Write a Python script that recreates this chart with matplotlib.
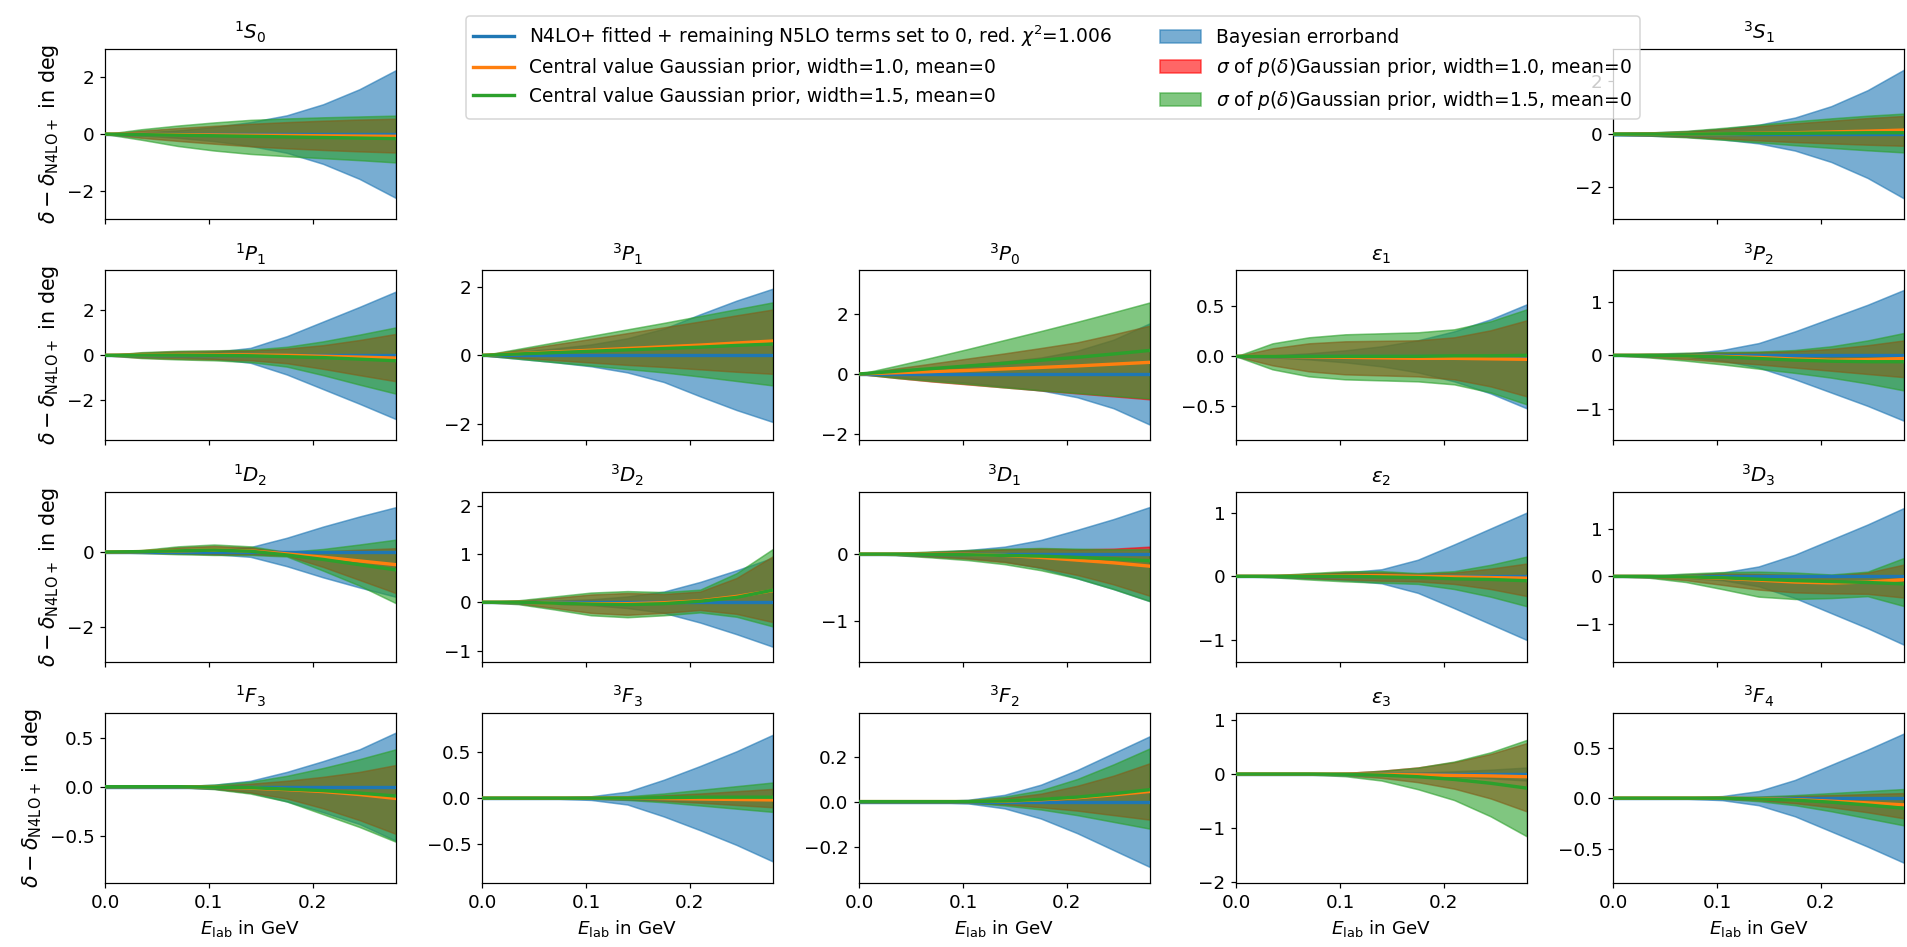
import matplotlib
matplotlib.use("Agg")
import matplotlib.pyplot as plt
import numpy as np

# ---------------- data ----------------
X = [0, 0.035, 0.07, 0.105, 0.14, 0.175, 0.21, 0.245, 0.28]  # E_lab in GeV

TITLES = [r'$^1S_0$', r'$^3S_1$',
          r'$^1P_1$', r'$^3P_1$', r'$^3P_0$', r'$\varepsilon_1$', r'$^3P_2$',
          r'$^1D_2$', r'$^3D_2$', r'$^3D_1$', r'$\varepsilon_2$', r'$^3D_3$',
          r'$^1F_3$', r'$^3F_3$', r'$^3F_2$', r'$\varepsilon_3$', r'$^3F_4$']

# N4LO+ fitted line (reference, difference = 0)
FIT = [0, 0, 0, 0, 0, 0, 0, 0, 0]

# Bayesian errorband half width (symmetric around 0)
BAYES = [
    [0, 0.05, 0.13, 0.25, 0.42, 0.66, 1.05, 1.58, 2.25],
    [0.05, 0.06, 0.1, 0.2, 0.35, 0.62, 1.05, 1.65, 2.42],
    [0, 0.04, 0.08, 0.15, 0.33, 0.85, 1.5, 2.15, 2.83],
    [0, 0.1, 0.2, 0.32, 0.5, 0.78, 1.2, 1.6, 1.95],
    [0, 0.1, 0.2, 0.3, 0.42, 0.55, 0.78, 1.15, 1.7],
    [0, 0.01, 0.03, 0.06, 0.1, 0.16, 0.25, 0.37, 0.52],
    [0, 0.01, 0.03, 0.1, 0.23, 0.45, 0.7, 0.95, 1.23],
    [0, 0.01, 0.03, 0.06, 0.13, 0.38, 0.68, 0.95, 1.2],
    [0, 0.01, 0.03, 0.06, 0.12, 0.22, 0.42, 0.66, 0.92],
    [0, 0.01, 0.03, 0.06, 0.11, 0.21, 0.36, 0.52, 0.7],
    [0, 0.01, 0.03, 0.06, 0.11, 0.26, 0.5, 0.75, 1.0],
    [0, 0.01, 0.03, 0.08, 0.21, 0.46, 0.78, 1.1, 1.45],
    [0, 0, 0.005, 0.02, 0.06, 0.15, 0.26, 0.38, 0.55],
    [0, 0, 0.005, 0.02, 0.07, 0.2, 0.35, 0.51, 0.69],
    [0, 0, 0.002, 0.008, 0.03, 0.075, 0.14, 0.215, 0.29],
    [0, 0, 0, 0.005, 0.01, 0.025, 0.05, 0.08, 0.12],
    [0, 0, 0.005, 0.02, 0.07, 0.18, 0.33, 0.48, 0.64],
]

# Central value, Gaussian prior width=1.0
CENTRAL_W10 = [
    [0, -0.01, -0.02, -0.03, -0.04, -0.05, -0.06, -0.07, -0.08],
    [0, 0, 0, 0.01, 0.03, 0.05, 0.08, 0.11, 0.15],
    [0, 0.02, 0.03, 0.03, 0.02, 0, -0.04, -0.08, -0.12],
    [0, 0.05, 0.1, 0.15, 0.2, 0.25, 0.3, 0.36, 0.42],
    [0, 0.04, 0.08, 0.12, 0.17, 0.22, 0.27, 0.33, 0.39],
    [0, 0, -0.005, -0.01, -0.015, -0.02, -0.02, -0.025, -0.03],
    [0, 0, -0.01, -0.02, -0.04, -0.07, -0.09, -0.08, -0.06],
    [0, 0.01, 0.03, 0.05, 0.03, -0.05, -0.14, -0.24, -0.34],
    [0, 0, -0.02, -0.03, -0.03, -0.01, 0.03, 0.12, 0.24],
    [0, 0, 0, -0.005, -0.02, -0.05, -0.09, -0.13, -0.18],
    [0, 0, 0.005, 0.01, 0.01, 0, -0.01, -0.02, -0.03],
    [0, 0, -0.01, -0.04, -0.08, -0.12, -0.14, -0.12, -0.07],
    [0, 0, 0, -0.005, -0.015, -0.03, -0.05, -0.08, -0.12],
    [0, 0, 0, 0, 0, -0.005, -0.01, -0.015, -0.02],
    [0, 0, 0, 0, 0.002, 0.008, 0.017, 0.03, 0.045],
    [0, 0, 0, -0.002, -0.008, -0.015, -0.025, -0.035, -0.05],
    [0, 0, 0, 0, -0.005, -0.015, -0.03, -0.047, -0.067],
]

# Central value, Gaussian prior width=1.5
CENTRAL_W15 = [
    [0, -0.02, -0.04, -0.06, -0.08, -0.1, -0.12, -0.14, -0.16],
    [0, 0, 0, 0.01, 0.02, 0.03, 0.04, 0.05, 0.05],
    [0, 0.01, 0.01, 0, -0.02, -0.06, -0.1, -0.17, -0.24],
    [0, 0.04, 0.08, 0.12, 0.16, 0.2, 0.24, 0.29, 0.33],
    [0, 0.09, 0.18, 0.27, 0.36, 0.46, 0.56, 0.67, 0.79],
    [0, 0, 0, 0, 0, 0, 0.005, 0.005, 0.01],
    [0, 0, -0.01, -0.03, -0.06, -0.09, -0.11, -0.12, -0.12],
    [0, 0.01, 0.03, 0.05, 0.02, -0.08, -0.2, -0.34, -0.48],
    [0, 0, -0.02, -0.04, -0.05, -0.03, 0.02, 0.1, 0.25],
    [0, 0, -0.005, -0.01, -0.02, -0.03, -0.05, -0.07, -0.1],
    [0, 0, 0, 0, -0.01, -0.02, -0.04, -0.05, -0.07],
    [0, 0, -0.01, -0.03, -0.06, -0.09, -0.11, -0.13, -0.16],
    [0, 0, 0, -0.005, -0.01, -0.025, -0.04, -0.065, -0.095],
    [0, 0, 0, 0, 0, 0.005, 0.01, 0.01, 0.01],
    [0, 0, 0, 0, 0.003, 0.01, 0.02, 0.035, 0.053],
    [0, 0, 0, -0.005, -0.02, -0.05, -0.1, -0.17, -0.26],
    [0, 0, 0, 0, -0.008, -0.02, -0.04, -0.068, -0.1],
]

# sigma band, width=1.0 : lower / upper
SIG_W10_LO = [
    [0, -0.13, -0.24, -0.34, -0.43, -0.5, -0.56, -0.61, -0.65],
    [-0.02, -0.05, -0.1, -0.17, -0.24, -0.3, -0.35, -0.4, -0.44],
    [0, -0.1, -0.15, -0.18, -0.22, -0.35, -0.6, -0.88, -1.15],
    [0, -0.07, -0.14, -0.21, -0.28, -0.34, -0.41, -0.48, -0.54],
    [0, -0.13, -0.25, -0.35, -0.45, -0.55, -0.65, -0.75, -0.85],
    [0, -0.09, -0.15, -0.18, -0.19, -0.2, -0.23, -0.3, -0.4],
    [0, -0.03, -0.07, -0.12, -0.17, -0.23, -0.29, -0.35, -0.41],
    [0, -0.02, -0.04, -0.06, -0.06, -0.1, -0.4, -0.75, -1.1],
    [0, -0.03, -0.12, -0.22, -0.26, -0.22, -0.16, -0.24, -0.41],
    [0, -0.01, -0.04, -0.07, -0.12, -0.2, -0.31, -0.45, -0.62],
    [0, -0.01, -0.03, -0.05, -0.07, -0.08, -0.12, -0.2, -0.31],
    [0, -0.02, -0.08, -0.18, -0.28, -0.34, -0.36, -0.37, -0.45],
    [0, 0, -0.005, -0.02, -0.06, -0.12, -0.22, -0.34, -0.48],
    [0, 0, 0, -0.005, -0.015, -0.03, -0.05, -0.075, -0.1],
    [0, 0, 0, -0.004, -0.012, -0.025, -0.04, -0.06, -0.08],
    [0, 0, -0.005, -0.025, -0.07, -0.15, -0.27, -0.45, -0.69],
    [0, 0, 0, -0.005, -0.02, -0.05, -0.09, -0.14, -0.2],
]
SIG_W10_HI = [
    [0, 0.12, 0.21, 0.29, 0.36, 0.42, 0.47, 0.51, 0.54],
    [0.02, 0.05, 0.1, 0.19, 0.3, 0.4, 0.5, 0.6, 0.68],
    [0, 0.12, 0.18, 0.2, 0.22, 0.3, 0.45, 0.68, 0.95],
    [0, 0.16, 0.32, 0.48, 0.65, 0.82, 0.99, 1.17, 1.34],
    [0, 0.18, 0.35, 0.52, 0.69, 0.87, 1.06, 1.33, 1.62],
    [0, 0.08, 0.13, 0.15, 0.155, 0.16, 0.19, 0.26, 0.36],
    [0, 0.02, 0.04, 0.05, 0.06, 0.08, 0.12, 0.19, 0.28],
    [0, 0.04, 0.12, 0.16, 0.12, -0.01, 0.02, 0.06, 0.1],
    [0, 0.03, 0.09, 0.16, 0.19, 0.17, 0.22, 0.5, 0.95],
    [0, 0.01, 0.03, 0.05, 0.07, 0.08, 0.07, 0.08, 0.11],
    [0, 0.01, 0.04, 0.06, 0.06, 0.04, 0.06, 0.12, 0.2],
    [0, 0.01, 0.04, 0.06, 0.05, 0.03, 0.02, 0.08, 0.25],
    [0, 0, 0.003, 0.01, 0.03, 0.06, 0.1, 0.15, 0.22],
    [0, 0, 0, 0.005, 0.015, 0.03, 0.05, 0.075, 0.1],
    [0, 0, 0, 0.005, 0.015, 0.035, 0.07, 0.115, 0.17],
    [0, 0, 0.005, 0.02, 0.06, 0.12, 0.22, 0.37, 0.57],
    [0, 0, 0, 0.003, 0.01, 0.02, 0.03, 0.04, 0.05],
]

# sigma band, width=1.5 : lower / upper
SIG_W15_LO = [
    [0, -0.2, -0.42, -0.58, -0.7, -0.78, -0.85, -0.92, -1.0],
    [-0.03, -0.06, -0.12, -0.21, -0.31, -0.42, -0.52, -0.61, -0.69],
    [0, -0.12, -0.18, -0.22, -0.3, -0.5, -0.88, -1.3, -1.7],
    [0, -0.1, -0.2, -0.3, -0.4, -0.5, -0.62, -0.75, -0.88],
    [0, -0.13, -0.24, -0.34, -0.45, -0.55, -0.64, -0.73, -0.82],
    [0, -0.13, -0.2, -0.23, -0.24, -0.25, -0.28, -0.36, -0.48],
    [0, -0.04, -0.1, -0.17, -0.25, -0.33, -0.42, -0.53, -0.66],
    [0, -0.03, -0.06, -0.08, -0.08, -0.12, -0.5, -0.9, -1.37],
    [0, -0.04, -0.15, -0.27, -0.31, -0.27, -0.21, -0.3, -0.5],
    [0, -0.015, -0.05, -0.09, -0.15, -0.24, -0.36, -0.52, -0.7],
    [0, -0.015, -0.05, -0.08, -0.1, -0.12, -0.2, -0.32, -0.47],
    [0, -0.03, -0.12, -0.27, -0.43, -0.48, -0.46, -0.42, -0.63],
    [0, 0, -0.005, -0.025, -0.07, -0.15, -0.28, -0.41, -0.56],
    [0, 0, 0, -0.007, -0.02, -0.045, -0.08, -0.115, -0.15],
    [0, 0, 0, -0.005, -0.017, -0.035, -0.06, -0.09, -0.12],
    [0, 0, -0.01, -0.04, -0.12, -0.28, -0.48, -0.78, -1.15],
    [0, 0, 0, -0.007, -0.03, -0.07, -0.13, -0.2, -0.27],
]
SIG_W15_HI = [
    [0, 0.17, 0.3, 0.41, 0.5, 0.55, 0.59, 0.62, 0.65],
    [0.03, 0.06, 0.12, 0.23, 0.35, 0.48, 0.59, 0.69, 0.77],
    [0, 0.14, 0.2, 0.22, 0.25, 0.38, 0.62, 0.92, 1.24],
    [0, 0.19, 0.38, 0.57, 0.76, 0.95, 1.15, 1.35, 1.55],
    [0, 0.27, 0.55, 0.84, 1.14, 1.44, 1.75, 2.07, 2.4],
    [0, 0.13, 0.19, 0.22, 0.23, 0.24, 0.27, 0.35, 0.47],
    [0, 0.03, 0.05, 0.06, 0.07, 0.1, 0.17, 0.28, 0.42],
    [0, 0.05, 0.15, 0.2, 0.15, 0.0, 0.08, 0.2, 0.33],
    [0, 0.04, 0.12, 0.2, 0.23, 0.21, 0.26, 0.6, 1.1],
    [0, 0.015, 0.04, 0.06, 0.08, 0.09, 0.08, 0.07, 0.07],
    [0, 0.015, 0.05, 0.08, 0.08, 0.05, 0.08, 0.18, 0.31],
    [0, 0.015, 0.06, 0.09, 0.1, 0.08, 0.04, 0.1, 0.39],
    [0, 0, 0.005, 0.02, 0.05, 0.11, 0.19, 0.28, 0.38],
    [0, 0, 0, 0.007, 0.02, 0.05, 0.09, 0.13, 0.17],
    [0, 0, 0, 0.006, 0.022, 0.05, 0.1, 0.165, 0.236],
    [0, 0, 0.005, 0.02, 0.06, 0.12, 0.23, 0.4, 0.63],
    [0, 0, 0, 0.004, 0.015, 0.03, 0.05, 0.07, 0.09],
]

YLIMS = [(-3.0, 3.0), (-3.2, 3.2), (-3.78, 3.78), (-2.49, 2.49), (-2.23, 3.48),
         (-0.84, 0.86), (-1.6, 1.6), (-2.94, 1.62), (-1.23, 2.29), (-1.6, 0.93),
         (-1.34, 1.33), (-1.81, 1.8), (-0.98, 0.752), (-0.925, 0.93),
         (-0.361, 0.394), (-2.01, 1.13), (-0.84, 0.845)]
YTICKS = [[-2, 0, 2], [-2, 0, 2], [-2, 0, 2], [-2, 0, 2], [-2, 0, 2],
          [-0.5, 0.0, 0.5], [-1, 0, 1], [-2, 0], [-1, 0, 1, 2], [-1, 0],
          [-1, 0, 1], [-1, 0, 1], [-0.5, 0.0, 0.5], [-0.5, 0.0, 0.5],
          [-0.2, 0.0, 0.2], [-2, -1, 0, 1], [-0.5, 0.0, 0.5]]
XTICKS = [0.0, 0.1, 0.2]

LABELS = [r'N4LO+ fitted + remaining N5LO terms set to 0, red. $\chi^2$=1.006',
          'Central value Gaussian prior, width=1.0, mean=0',
          'Central value Gaussian prior, width=1.5, mean=0',
          'Bayesian errorband',
          r'$\sigma$ of $p(\delta)$Gaussian prior, width=1.0, mean=0',
          r'$\sigma$ of $p(\delta)$Gaussian prior, width=1.5, mean=0']

# ---------------- figure ----------------
plt.rcParams['font.size'] = 12
DPI = 110
fig, axes = plt.subplots(4, 5, figsize=(1907 / DPI, 947 / DPI), dpi=DPI, sharex=True)
fig.subplots_adjust(left=0.0551, right=0.9984, bottom=0.0676, top=0.9483,
                    wspace=0.297, hspace=0.30)
for c in (1, 2, 3):
    axes[0, c].set_visible(False)

slots = [(0, 0), (0, 4)] + [(r, c) for r in (1, 2, 3) for c in range(5)]
x = np.array(X)
handles = None
for i, (r, c) in enumerate(slots):
    ax = axes[r, c]
    b = np.array(BAYES[i])
    pb = ax.fill_between(x, -b, b, color='C0', alpha=0.6)
    pr = ax.fill_between(x, SIG_W10_LO[i], SIG_W10_HI[i], color='red', alpha=0.6)
    pg = ax.fill_between(x, SIG_W15_LO[i], SIG_W15_HI[i], color='C2', alpha=0.6)
    l0, = ax.plot(x, FIT, color='C0', lw=2.2, zorder=3)
    l1, = ax.plot(x, CENTRAL_W10[i], color='C1', lw=2.2, zorder=3)
    l2, = ax.plot(x, CENTRAL_W15[i], color='C2', lw=2.2, zorder=3)
    if handles is None:
        handles = [l0, l1, l2, pb, pr, pg]
    ax.set_title(TITLES[i], fontsize=13)
    ax.set_xlim(0, 0.28)
    ax.set_xticks(XTICKS)
    ax.set_ylim(*YLIMS[i])
    ax.set_yticks(YTICKS[i])
    if c == 0:
        ax.set_ylabel(r'$\delta - \delta_{\mathrm{N4LO+}}$ in deg', fontsize=13.6)
    if r == 3:
        ax.set_xlabel(r'$E_{\mathrm{lab}}$ in GeV')

fig.legend(handles, LABELS, ncol=2, loc='upper left',
           bbox_to_anchor=(466 / 1907, 1 - 16 / 947), borderaxespad=0,
           handlelength=2.2, columnspacing=2.6, fontsize=12.2)

fig.savefig('out.png', dpi=DPI)
